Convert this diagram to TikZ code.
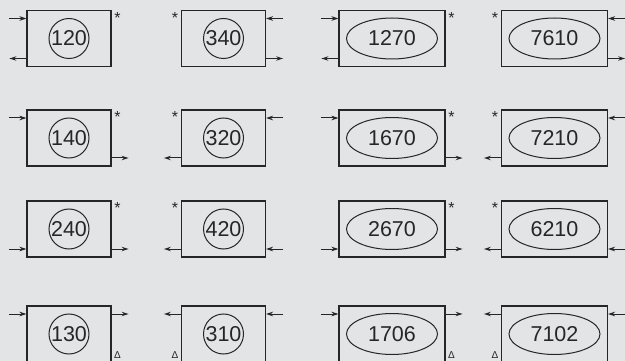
\documentclass[tikz,border=0pt]{standalone}
\usepackage{fontspec}
\setmainfont{Liberation Sans}
\usetikzlibrary{shapes.geometric,arrows.meta}
\definecolor{bg}{HTML}{E3E4E6}
\definecolor{ink}{HTML}{262626}
\tikzset{
  box/.style={draw=ink,line width=1.1pt,rectangle,inner sep=0pt,minimum height=56pt},
  nbox/.style={box,minimum width=84pt},
  wbox/.style={box,minimum width=106pt},
  rnd/.style={draw=ink,line width=1pt,circle,inner sep=0pt,minimum size=40pt,text=ink,font=\fontsize{21.5}{24}\selectfont},
  ova/.style={draw=ink,line width=1pt,ellipse,inner sep=0pt,minimum width=91pt,minimum height=41pt,text=ink,font=\fontsize{21.5}{24}\selectfont},
  arr/.style={draw=ink,line width=1pt,-{Stealth[length=7pt,width=4.5pt]}},
  star/.style={inner sep=0pt,text=ink,font=\fontsize{16}{16}\selectfont},
  tri/.style={inner sep=0pt,text=ink,font=\fontsize{10}{10}\selectfont}
}
% arrows at the sides of a box: #1 box, #2 height above the centre
\newcommand{\arrInL}[2]{\draw[arr] ([shift={(-17pt,#2)}]#1.west) -- ([yshift=#2]#1.west);}
\newcommand{\arrOutL}[2]{\draw[arr] ([yshift=#2]#1.west) -- ([shift={(-17pt,#2)}]#1.west);}
\newcommand{\arrInR}[2]{\draw[arr] ([shift={(17pt,#2)}]#1.east) -- ([yshift=#2]#1.east);}
\newcommand{\arrOutR}[2]{\draw[arr] ([yshift=#2]#1.east) -- ([shift={(17pt,#2)}]#1.east);}
\begin{document}
\begin{tikzpicture}[x=1pt,y=-1pt]
\fill[bg] (0,0) rectangle (625,361);
\clip (0,0) rectangle (625,361);

% first row
\node[nbox] (b120) at (69,38.5) {}; \node[rnd] (n120) at (b120) {120};
\node[star] (s120) at ([shift={(6pt,-8pt)}]b120.north east) {*};
\arrInL{b120}{20pt} \arrOutL{b120}{-20pt}
\node[nbox] (b340) at (223.5,38.5) {}; \node[rnd] (n340) at (b340) {340};
\node[star] (s340) at ([shift={(-6pt,-8pt)}]b340.north west) {*};
\arrInR{b340}{20pt} \arrOutR{b340}{-20pt}
\node[wbox] (b1270) at (392,38.5) {}; \node[ova] (n1270) at (b1270) {1270};
\node[star] (s1270) at ([shift={(6pt,-8pt)}]b1270.north east) {*};
\arrInL{b1270}{20pt} \arrOutL{b1270}{-20pt}
\node[wbox] (b7610) at (554.5,38.5) {}; \node[ova] (n7610) at (b7610) {7610};
\node[star] (s7610) at ([shift={(-6pt,-8pt)}]b7610.north west) {*};
\arrInR{b7610}{20pt} \arrOutR{b7610}{-20pt}

% second row
\node[nbox] (b140) at (69,138) {}; \node[rnd] (n140) at (b140) {140};
\node[star] (s140) at ([shift={(6pt,-8pt)}]b140.north east) {*};
\arrInL{b140}{20pt} \arrOutR{b140}{-20pt}
\node[nbox] (b320) at (223.5,138) {}; \node[rnd] (n320) at (b320) {320};
\node[star] (s320) at ([shift={(-6pt,-8pt)}]b320.north west) {*};
\arrInR{b320}{20pt} \arrOutL{b320}{-20pt}
\node[wbox] (b1670) at (392,138) {}; \node[ova] (n1670) at (b1670) {1670};
\node[star] (s1670) at ([shift={(6pt,-8pt)}]b1670.north east) {*};
\arrInL{b1670}{20pt} \arrOutR{b1670}{-20pt}
\node[wbox] (b7210) at (554.5,138) {}; \node[ova] (n7210) at (b7210) {7210};
\node[star] (s7210) at ([shift={(-6pt,-8pt)}]b7210.north west) {*};
\arrInR{b7210}{20pt} \arrOutL{b7210}{-20pt}

% third row
\node[nbox] (b240) at (69,229) {}; \node[rnd] (n240) at (b240) {240};
\node[star] (s240) at ([shift={(6pt,-8pt)}]b240.north east) {*};
\arrInL{b240}{-20pt} \arrOutR{b240}{-20pt}
\node[nbox] (b420) at (223.5,229) {}; \node[rnd] (n420) at (b420) {420};
\node[star] (s420) at ([shift={(-6pt,-8pt)}]b420.north west) {*};
\arrInR{b420}{-20pt} \arrOutL{b420}{-20pt}
\node[wbox] (b2670) at (392,229) {}; \node[ova] (n2670) at (b2670) {2670};
\node[star] (s2670) at ([shift={(6pt,-8pt)}]b2670.north east) {*};
\arrInL{b2670}{-20pt} \arrOutR{b2670}{-20pt}
\node[wbox] (b6210) at (554.5,229) {}; \node[ova] (n6210) at (b6210) {6210};
\node[star] (s6210) at ([shift={(-6pt,-8pt)}]b6210.north west) {*};
\arrInR{b6210}{-20pt} \arrOutL{b6210}{-20pt}

% fourth row
\node[nbox] (b130) at (69,334) {}; \node[rnd] (n130) at (b130) {130};
\node[tri] (t130) at ([shift={(6pt,-50pt)}]b130.north east) {Δ};
\arrInL{b130}{20pt} \arrOutR{b130}{20pt}
\node[nbox] (b310) at (223.5,334) {}; \node[rnd] (n310) at (b310) {310};
\node[tri] (t310) at ([shift={(-6pt,-50pt)}]b310.north west) {Δ};
\arrInR{b310}{20pt} \arrOutL{b310}{20pt}
\node[wbox] (b1706) at (392,334) {}; \node[ova] (n1706) at (b1706) {1706};
\node[tri] (t1706) at ([shift={(6pt,-50pt)}]b1706.north east) {Δ};
\arrInL{b1706}{20pt} \arrOutR{b1706}{20pt}
\node[wbox] (b7102) at (554.5,334) {}; \node[ova] (n7102) at (b7102) {7102};
\node[tri] (t7102) at ([shift={(-6pt,-50pt)}]b7102.north west) {Δ};
\arrInR{b7102}{20pt} \arrOutL{b7102}{20pt}
\end{tikzpicture}
\end{document}
